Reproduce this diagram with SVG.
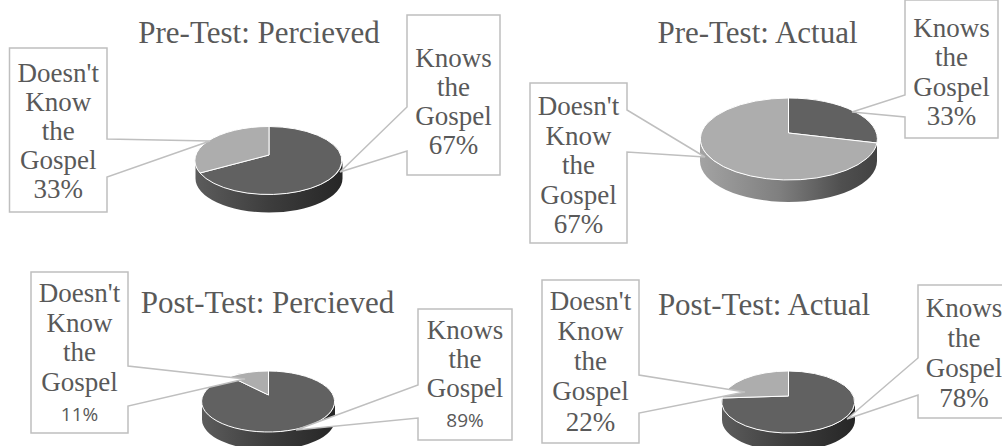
<svg xmlns="http://www.w3.org/2000/svg" width="1002" height="446" viewBox="0 0 1002 446">
<defs>
<linearGradient id="sideDark" x1="0" y1="0" x2="1" y2="0">
<stop offset="0" stop-color="#5c5c5c"/><stop offset="0.5" stop-color="#3d3d3d"/><stop offset="1" stop-color="#262626"/>
</linearGradient>
<linearGradient id="sideLight" x1="0" y1="0" x2="1" y2="0">
<stop offset="0" stop-color="#a3a3a3"/><stop offset="0.45" stop-color="#7f7f7f"/><stop offset="0.8" stop-color="#4f4f4f"/><stop offset="1" stop-color="#424242"/>
</linearGradient>
</defs>
<style>
.dark{fill:#616161;stroke:#ffffff;stroke-width:1;stroke-linejoin:round}
.light{fill:#adadad;stroke:#ffffff;stroke-width:1;stroke-linejoin:round}
.sd{fill:url(#sideDark)}
.sl{fill:url(#sideLight)}
.box{fill:#ffffff;stroke:#bfbfbf;stroke-width:1.5;stroke-linejoin:miter}
.t{font-family:"Liberation Serif","Times New Roman",serif;font-size:27px;fill:#595959;text-anchor:middle}
.s{font-family:"Open Sans","Noto Sans",sans-serif;font-size:19px;fill:#595959;text-anchor:middle}
.title{font-family:"Liberation Serif","Times New Roman",serif;font-size:31px;fill:#595959;text-anchor:middle}
</style>

<g id="chart-pre-perceived">
<g id="pie1">
<path class="sd" d="M195.5,160.5 A73.5,34 0 0 0 342.5,160.5 V178.5 A73.5,34 0 0 1 195.5,178.5 Z"/>
<path class="dark" d="M269,155 L269,126.5 A73.5,34 0 1 1 200,173 Z"/>
<path class="light" d="M269,155 L200,173 A73.5,34 0 0 1 269,126.5 Z"/>
</g>
<text class="title" x="259" y="42.5">Pre-Test: Percieved</text>
<g id="label1-doesnt">
<path class="box" d="M9.5,48 H107 V139 L210,141 L107,177 V212 H9.5 Z"/>
<text class="t" x="58.25" y="82">Doesn't</text>
<text class="t" x="58.25" y="111">Know</text>
<text class="t" x="58.25" y="140">the</text>
<text class="t" x="58.25" y="169">Gospel</text>
<text class="t" x="58.25" y="198">33%</text>
</g>
<g id="label1-knows">
<path class="box" d="M407,15 H500 V175 H407 V151 L340,172 L407,107 Z"/>
<text class="t" x="453.5" y="67">Knows</text>
<text class="t" x="453.5" y="96">the</text>
<text class="t" x="453.5" y="125">Gospel</text>
<text class="t" x="453.5" y="154">67%</text>
</g>
</g>

<g id="chart-pre-actual">
<g id="pie2">
<path class="sl" d="M700,139 A88.5,41 0 0 0 877,139 V161 A88.5,41 0 0 1 700,161 Z"/>
<path class="dark" d="M788.5,133 L788.5,98 A88.5,41 0 0 1 877,143 Z"/>
<path class="light" d="M788.5,133 L877,143 A88.5,41 0 1 1 788.5,98 Z"/>
</g>
<text class="title" x="757.5" y="43">Pre-Test: Actual</text>
<g id="label2-doesnt">
<path class="box" d="M530,83 H627 V110 L705,157 L627,152 V243 H530 Z"/>
<text class="t" x="578.5" y="115">Doesn't</text>
<text class="t" x="578.5" y="144.5">Know</text>
<text class="t" x="578.5" y="174">the</text>
<text class="t" x="578.5" y="203.5">Gospel</text>
<text class="t" x="578.5" y="233">67%</text>
</g>
<g id="label2-knows">
<path class="box" d="M905,0 H998 V138 H905 V117 L852,112 L905,95 Z"/>
<text class="t" x="951.5" y="36.5">Knows</text>
<text class="t" x="951.5" y="66">the</text>
<text class="t" x="951.5" y="95.5">Gospel</text>
<text class="t" x="951.5" y="125">33%</text>
</g>
</g>

<g id="chart-post-perceived">
<g id="pie3">
<path class="sd" d="M202,401.5 A66.5,30.5 0 0 0 335,401.5 V419.5 A66.5,30.5 0 0 1 202,419.5 Z"/>
<path class="dark" d="M268.5,395 L268.5,371 A66.5,30.5 0 1 1 230,376.5 Z"/>
<path class="light" d="M268.5,395 L230,376.5 A66.5,30.5 0 0 1 268.5,371 Z"/>
</g>
<text class="title" x="267.5" y="313">Post-Test: Percieved</text>
<g id="label3-doesnt">
<path class="box" d="M31,272 H128 V366 L245,379 L128,406 V433 H31 Z"/>
<text class="t" x="79.5" y="302">Doesn't</text>
<text class="t" x="79.5" y="331.5">Know</text>
<text class="t" x="79.5" y="361">the</text>
<text class="t" x="79.5" y="390.5">Gospel</text>
<text class="s" x="79.5" y="421">11%</text>
</g>
<g id="label3-knows">
<path class="box" d="M418,309 H512 V440 H418 V418 L296,430 L418,385 Z"/>
<text class="t" x="465" y="339">Knows</text>
<text class="t" x="465" y="368">the</text>
<text class="t" x="465" y="397">Gospel</text>
<text class="s" x="465" y="427">89%</text>
</g>
</g>

<g id="chart-post-actual">
<g id="pie4">
<path class="sd" d="M722,402 A66.5,31 0 0 0 855,402 V420 A66.5,31 0 0 1 722,420 Z"/>
<path class="dark" d="M788.5,396 L788.5,371 A66.5,31 0 1 1 722.2,398 Z"/>
<path class="light" d="M788.5,396 L722.2,398 A66.5,31 0 0 1 788.5,371 Z"/>
</g>
<text class="title" x="764" y="315">Post-Test: Actual</text>
<g id="label4-doesnt">
<path class="box" d="M542,280 H639 V375 L745,392 L639,413 V443 H542 Z"/>
<text class="t" x="590.5" y="310">Doesn't</text>
<text class="t" x="590.5" y="340">Know</text>
<text class="t" x="590.5" y="370">the</text>
<text class="t" x="590.5" y="400">Gospel</text>
<text class="t" x="590.5" y="431">22%</text>
</g>
<g id="label4-knows">
<path class="box" d="M918,285 H1010 V418 H918 V395 L847,419 L918,358 Z"/>
<text class="t" x="964" y="317">Knows</text>
<text class="t" x="964" y="347">the</text>
<text class="t" x="964" y="377">Gospel</text>
<text class="t" x="964" y="407">78%</text>
</g>
</g>
</svg>
